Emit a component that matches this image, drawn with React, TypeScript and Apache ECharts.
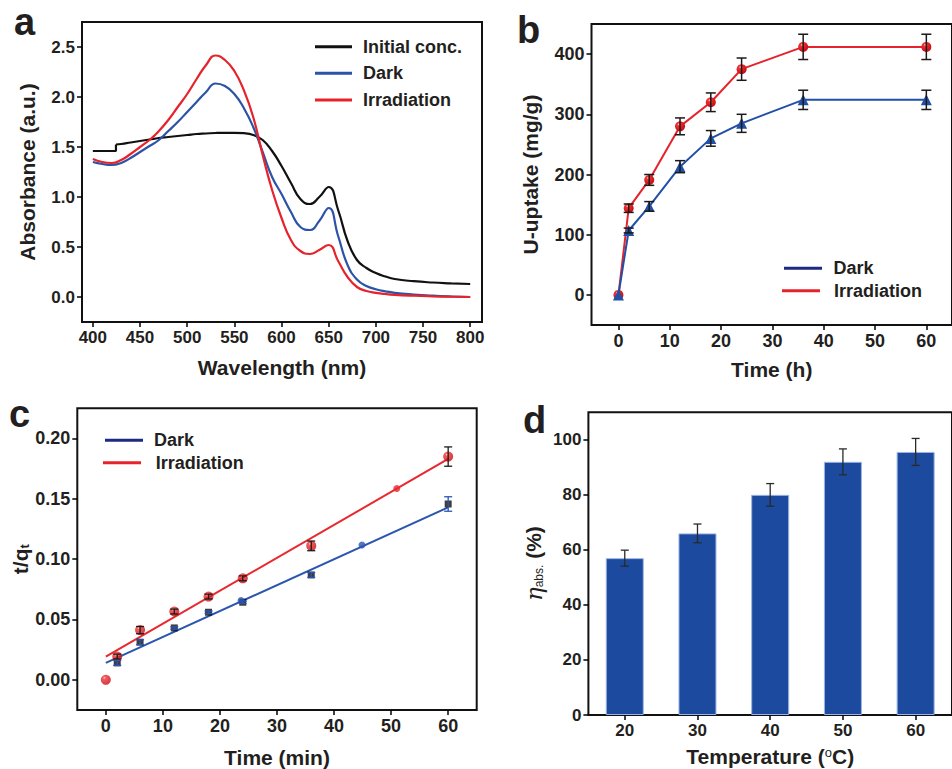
import React, { useEffect, useRef } from "react";
import * as echarts from "echarts";

// ---------- Panel a: absorption spectra ----------
const wavelengths = [400, 410, 420, 430, 440, 450, 460, 470, 480, 490, 500, 510, 520, 530, 540, 550, 560, 570, 580, 590, 600, 610, 620, 630, 640, 650, 660, 670, 680, 690, 700, 710, 720, 740, 760, 780, 800];
const absDark = [1.35, 1.33, 1.32, 1.34, 1.39, 1.45, 1.51, 1.57, 1.66, 1.75, 1.85, 1.95, 2.05, 2.135, 2.11, 2.03, 1.89, 1.7, 1.45, 1.2, 1.03, 0.85, 0.7, 0.67, 0.76, 0.89, 0.61, 0.32, 0.175, 0.11, 0.078, 0.057, 0.042, 0.025, 0.013, 0.005, 0.0];
const absIrradiation = [1.38, 1.35, 1.34, 1.37, 1.43, 1.5, 1.57, 1.66, 1.77, 1.9, 2.03, 2.18, 2.32, 2.415, 2.37, 2.26, 2.07, 1.8, 1.42, 1.07, 0.79, 0.57, 0.46, 0.43, 0.47, 0.52, 0.36, 0.2, 0.1, 0.06, 0.042, 0.03, 0.022, 0.013, 0.007, 0.003, 0.0];
// the initial-concentration trace has an instrument step at ~424.5 nm
const wlInitial = [400, 410, 420, 424.5, 424.5, 430, 440, 450, 460, 470, 480, 490, 500, 510, 520, 530, 540, 550, 560, 570, 580, 590, 600, 610, 620, 630, 640, 650, 660, 670, 680, 690, 700, 710, 720, 740, 760, 780, 800];
const absInitial = [1.46, 1.46, 1.46, 1.46, 1.525, 1.53, 1.545, 1.56, 1.575, 1.59, 1.6, 1.61, 1.62, 1.63, 1.635, 1.64, 1.642, 1.642, 1.638, 1.62, 1.57, 1.46, 1.31, 1.14, 0.98, 0.93, 1.0, 1.1, 0.87, 0.56, 0.37, 0.29, 0.24, 0.205, 0.18, 0.158, 0.145, 0.137, 0.13];
const STEP_INDEX = 4;
const absTicks = [0, 0.5, 1, 1.5, 2, 2.5];
const wlTicks = [400, 450, 500, 550, 600, 650, 700, 750, 800];

// ---------- Panel b: uptake vs time ----------
const uptakeTime = [0, 2, 6, 12, 18, 24, 36, 60];
const uptakeDark = [0, 107, 147, 213, 260, 285, 324, 324];
const uptakeDarkErr = [0, 4, 8, 10, 13, 15, 16, 16];
const uptakeIrr = [0, 144, 191, 280, 320, 375, 412, 412];
const uptakeIrrErr = [0, 7, 9, 14, 15.5, 18.5, 21, 21];
const uptakeTicks = [0, 100, 200, 300, 400];
const timeHTicks = [0, 10, 20, 30, 40, 50, 60];

// ---------- Panel c: kinetics fit ----------
const kinTimeIrr = [0, 2, 6, 12, 18, 24, 36, 60];
const kinIrr = [0, 0.0193, 0.0412, 0.0566, 0.069, 0.0841, 0.111, 0.185];
const kinIrrErr = [0, 0.002, 0.003, 0.002, 0.002, 0.002, 0.004, 0.008];
const kinTimeDark = [2, 6, 12, 18, 24, 36, 60];
const kinDark = [0.014, 0.0312, 0.043, 0.056, 0.0643, 0.0869, 0.1457];
const kinDarkErr = [0.002, 0.002, 0.001, 0.001, 0.001, 0.002, 0.006];
const kinIrrExtraTime = [51];
const kinIrrExtra = [0.1586];
const kinDarkExtraTime = [23.7, 44.9];
const kinDarkExtra = [0.0657, 0.1117];
const fitTime = [0, 60];
const fitIrr = [0.0192, 0.183];
const fitDark = [0.0141, 0.1429];
const kinTicks = [0, 0.05, 0.1, 0.15, 0.2];
const timeMinTicks = [0, 10, 20, 30, 40, 50, 60];

// ---------- Panel d: temperature ----------
const temps = ["20", "30", "40", "50", "60"];
const etaAbs = [57, 66, 80, 92, 95.6];
const etaErr = [2.9, 3.4, 4.1, 4.7, 4.9];
const etaTicks = [0, 20, 40, 60, 80, 100];

const FONT = "'Liberation Sans', Arial, Helvetica, sans-serif";
const TXT = "#231f20";
const RED = "#e6222a";
const BLUE = "#2150a6";
const NAVY = "#1d2a80";

const zip = (xs: number[], ys: number[]) => xs.map((x, i) => [x, ys[i]]);
const errData = (xs: (number | string)[], ys: number[], es: number[]) =>
  xs
    .map((x, i) => [typeof x === "string" ? i : x, ys[i] - es[i], ys[i] + es[i], es[i]])
    .filter((d) => (d[3] as number) > 0);

const errRender = (color: string, cap: number, width = 1.5) => (_p: any, api: any) => {
  const x = api.value(0);
  const lo = api.coord([x, api.value(1)]);
  const hi = api.coord([x, api.value(2)]);
  const style = { stroke: color, lineWidth: width };
  return {
    type: "group",
    children: [
      { type: "line", shape: { x1: lo[0], y1: lo[1], x2: hi[0], y2: hi[1] }, style },
      { type: "line", shape: { x1: lo[0] - cap, y1: lo[1], x2: lo[0] + cap, y2: lo[1] }, style },
      { type: "line", shape: { x1: hi[0] - cap, y1: hi[1], x2: hi[0] + cap, y2: hi[1] }, style },
    ],
  };
};

const sphere = () =>
  new echarts.graphic.RadialGradient(0.36, 0.3, 0.62, [
    { offset: 0, color: "#ffd2d2" },
    { offset: 0.22, color: "#f03434" },
    { offset: 1, color: "#cc1018" },
  ]);

const labelStyle = (fmt: (v: number) => string, size = 17, ticks?: number[]) => ({
  customValues: ticks,
  formatter: fmt,
  color: TXT,
  fontFamily: FONT,
  fontWeight: "bold",
  fontSize: size,
  margin: 7,
});

const nameStyle = (size = 21, rich?: any) => ({
  color: TXT,
  fontFamily: FONT,
  fontWeight: "bold",
  fontSize: size,
  rich,
});

const valAxis = (gridIndex: number, min: number, max: number, ticks: number[], fmt: (v: number) => string, size: number, name: string, nameGap: number, rich?: any) => ({
  type: "value",
  gridIndex,
  min,
  max,
  name,
  nameLocation: "middle",
  nameGap,
  nameTextStyle: nameStyle(21, rich),
  axisLine: { show: false, onZero: false },
  axisTick: { show: true, inside: false, length: 5, lineStyle: { color: "#000", width: 1.5 }, customValues: ticks },
  axisLabel: labelStyle(fmt, size, ticks),
  splitLine: { show: false },
});

const gridStyle = { show: true, borderColor: "#111", borderWidth: 2, backgroundColor: "transparent" };

const legendItems = (items: { x1: number; x2: number; y: number; tx: number; color: string; text: string }[]) =>
  items.flatMap((it) => [
    { type: "line", shape: { x1: it.x1, y1: it.y, x2: it.x2, y2: it.y }, style: { stroke: it.color, lineWidth: 3 } },
    {
      type: "text",
      x: it.tx,
      y: it.y,
      style: { text: it.text, fill: TXT, font: `bold 18px ${FONT}`, align: "left", verticalAlign: "middle" },
    },
  ]);

const panelLetter = (t: string, x: number, y: number) => ({
  type: "text",
  x,
  y,
  style: { text: t, fill: TXT, font: `bold 38px ${FONT}`, align: "left", verticalAlign: "middle" },
});

function buildOption(): any {
  const f1 = (v: number) => v.toFixed(1);
  const f2 = (v: number) => v.toFixed(2);
  const f0 = (v: number) => String(Math.round(v));
  const initialPts = zip(wlInitial, absInitial);
  return {
    animation: false,
    backgroundColor: "#fff",
    textStyle: { fontFamily: FONT },
    grid: [
      { left: 82, top: 22, width: 400, height: 300, ...gridStyle },
      { left: 591.5, top: 24, width: 368, height: 301, ...gridStyle },
      { left: 77.3, top: 408.3, width: 399.4, height: 303.4, ...gridStyle },
      { left: 588.4, top: 412.3, width: 376, height: 302.7, ...gridStyle },
    ],
    xAxis: [
      valAxis(0, 388.5, 812.5, wlTicks, f0, 17, "Wavelength (nm)", 35),
      valAxis(1, -5.25, 65, timeHTicks, f0, 18, "Time (h)", 34),
      valAxis(2, -5, 65, timeMinTicks, f0, 18, "Time (min)", 37),
      {
        type: "category",
        gridIndex: 3,
        data: temps,
        name: "Temperature ({sup|o}C)",
        nameLocation: "middle",
        nameGap: 31,
        nameTextStyle: nameStyle(21, {
          sup: { fontSize: 13, fontWeight: "normal", fontFamily: FONT, color: TXT, verticalAlign: "top", lineHeight: 12 },
        }),
        axisLine: { show: false },
        axisTick: { show: true, alignWithLabel: true, length: 5, lineStyle: { color: "#000", width: 1.5 } },
        axisLabel: { color: TXT, fontFamily: FONT, fontWeight: "bold", fontSize: 17, margin: 7 },
        splitLine: { show: false },
      },
    ],
    yAxis: [
      valAxis(0, -0.25, 2.75, absTicks, f1, 17, "Absorbance (a.u.)", 44),
      valAxis(1, -50, 450, uptakeTicks, f0, 18, "U-uptake (mg/g)", 51),
      valAxis(2, -0.025, 0.225, kinTicks, f2, 18, "t/q{sub|t}", 44, {
        sub: { fontSize: 13, fontWeight: "bold", fontFamily: FONT, color: TXT, verticalAlign: "bottom", lineHeight: 12 },
      }),
      valAxis(3, 0, 110, etaTicks, f0, 17, "{eta|η}{sub|abs.} (%)", 43, {
        eta: { fontSize: 23, fontStyle: "italic", fontWeight: "normal", fontFamily: "'DejaVu Serif', serif", color: TXT },
        sub: { fontSize: 12, fontWeight: "normal", fontFamily: FONT, color: TXT, verticalAlign: "bottom", lineHeight: 10 },
      }),
    ],
    series: [
      // panel a
      { type: "line", name: "Initial conc.", xAxisIndex: 0, yAxisIndex: 0, data: initialPts.slice(0, STEP_INDEX + 1), symbol: "none", lineStyle: { color: "#111", width: 2.2 } },
      { type: "line", name: "Initial conc.", xAxisIndex: 0, yAxisIndex: 0, data: initialPts.slice(STEP_INDEX), symbol: "none", smooth: 0.5, lineStyle: { color: "#111", width: 2.2 } },
      { type: "line", name: "Dark", xAxisIndex: 0, yAxisIndex: 0, data: zip(wavelengths, absDark), symbol: "none", smooth: 0.5, lineStyle: { color: "#2b53a7", width: 2.2 } },
      { type: "line", name: "Irradiation", xAxisIndex: 0, yAxisIndex: 0, data: zip(wavelengths, absIrradiation), symbol: "none", smooth: 0.5, lineStyle: { color: RED, width: 2.2 } },
      // panel b
      {
        type: "line", name: "Irradiation", xAxisIndex: 1, yAxisIndex: 1, data: zip(uptakeTime, uptakeIrr),
        symbol: "circle", symbolSize: 10, lineStyle: { color: RED, width: 2 },
        itemStyle: { color: sphere(), borderWidth: 0 }, z: 2,
      },
      {
        type: "line", name: "Dark", xAxisIndex: 1, yAxisIndex: 1, data: zip(uptakeTime, uptakeDark),
        symbol: "triangle", symbolSize: 11, lineStyle: { color: BLUE, width: 2 },
        itemStyle: { color: BLUE, borderWidth: 0 }, z: 3,
      },
      { type: "custom", xAxisIndex: 1, yAxisIndex: 1, renderItem: errRender("#1a1a1a", 5), data: errData(uptakeTime, uptakeIrr, uptakeIrrErr), encode: { x: 0, y: [1, 2] }, z: 5 },
      { type: "custom", xAxisIndex: 1, yAxisIndex: 1, renderItem: errRender("#1a1a1a", 5), data: errData(uptakeTime, uptakeDark, uptakeDarkErr), encode: { x: 0, y: [1, 2] }, z: 5 },
      // panel c
      { type: "line", name: "Irradiation fit", xAxisIndex: 2, yAxisIndex: 2, data: zip(fitTime, fitIrr), symbol: "none", lineStyle: { color: "#e8282e", width: 2 }, z: 2 },
      { type: "line", name: "Dark fit", xAxisIndex: 2, yAxisIndex: 2, data: zip(fitTime, fitDark), symbol: "none", lineStyle: { color: "#2a55b0", width: 2 }, z: 2 },
      { type: "scatter", name: "Dark data", xAxisIndex: 2, yAxisIndex: 2, data: zip(kinTimeDark, kinDark), symbol: "rect", symbolSize: 7, itemStyle: { color: "#0d0d12" }, z: 3 },
      { type: "scatter", name: "Dark extra", xAxisIndex: 2, yAxisIndex: 2, data: zip(kinDarkExtraTime, kinDarkExtra), symbol: "circle", symbolSize: 7, itemStyle: { color: "#2a55b0" }, z: 3 },
      { type: "scatter", name: "Irradiation data", xAxisIndex: 2, yAxisIndex: 2, data: zip(kinTimeIrr, kinIrr), symbol: "circle", symbolSize: 10, itemStyle: { color: sphere() }, z: 4 },
      { type: "scatter", name: "Irradiation extra", xAxisIndex: 2, yAxisIndex: 2, data: zip(kinIrrExtraTime, kinIrrExtra), symbol: "circle", symbolSize: 7, itemStyle: { color: "#e8282e" }, z: 4 },
      { type: "custom", xAxisIndex: 2, yAxisIndex: 2, renderItem: errRender("#1a1a1a", 4, 1.3), data: errData(kinTimeIrr, kinIrr, kinIrrErr), encode: { x: 0, y: [1, 2] }, z: 6 },
      { type: "custom", xAxisIndex: 2, yAxisIndex: 2, renderItem: errRender("#2a55b0", 4, 1.3), data: errData(kinTimeDark, kinDark, kinDarkErr), encode: { x: 0, y: [1, 2] }, z: 6 },
      // panel d
      {
        type: "bar", name: "η", xAxisIndex: 3, yAxisIndex: 3, data: etaAbs, barWidth: 38,
        itemStyle: { color: "#1b4a9e", borderColor: "#9db4e4", borderWidth: 1 },
      },
      { type: "custom", xAxisIndex: 3, yAxisIndex: 3, renderItem: errRender("#2a2a2a", 4, 1.3), data: errData(temps, etaAbs, etaErr), encode: { x: 0, y: [1, 2] }, z: 6 },
    ],
    graphic: [
      panelLetter("a", 14, 22),
      panelLetter("b", 517, 30),
      panelLetter("c", 9, 414),
      panelLetter("d", 523, 420),
      ...legendItems([
        { x1: 315, x2: 352, y: 46.7, tx: 363, color: "#111", text: "Initial conc." },
        { x1: 315, x2: 352, y: 73.3, tx: 363, color: "#2b53a7", text: "Dark" },
        { x1: 315, x2: 352, y: 100, tx: 363, color: RED, text: "Irradiation" },
        { x1: 784, x2: 822, y: 268.3, tx: 833.5, color: NAVY, text: "Dark" },
        { x1: 782, x2: 820, y: 290.7, tx: 834, color: RED, text: "Irradiation" },
        { x1: 105, x2: 143, y: 440.3, tx: 154, color: NAVY, text: "Dark" },
        { x1: 103, x2: 141, y: 462.7, tx: 155.7, color: RED, text: "Irradiation" },
      ]),
    ],
  };
}

export default function App() {
  const ref = useRef<HTMLDivElement>(null);
  useEffect(() => {
    if (!ref.current) return;
    const chart = echarts.init(ref.current, null, { renderer: "svg" });
    chart.setOption(buildOption());
    return () => chart.dispose();
  }, []);
  return (
    <div
      ref={ref}
      style={{ position: "fixed", left: 0, top: 0, width: 952, height: 769, background: "#fff" }}
    />
  );
}
